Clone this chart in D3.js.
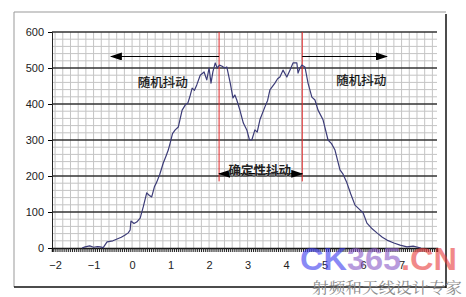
<!DOCTYPE html>
<html>
<head>
<meta charset="utf-8">
<script src="https://cdn.jsdelivr.net/npm/d3@7"></script>
<style>
  html, body { margin: 0; padding: 0; background: #fff; }
  svg { display: block; font-family: Arial, "Liberation Sans", sans-serif; }
  .cn { font-family: "Noto Sans CJK SC", sans-serif; }
</style>
</head>
<body>
<div id="chart"></div>
<script>
// Jitter histogram: hits vs. time offset, with deterministic / random jitter marked.
const xLabels = [-2, -1, 0, 1, 2, 3, 4, 5, 6, 7];
const yTicks = [0, 100, 200, 300, 400, 500, 600];
const hitX = [-1.3, -1.22, -1.1, -1.0, -0.9, -0.83, -0.75, -0.65, -0.5, -0.39,
  -0.28, -0.18, -0.1, -0.05, -0.03, 0.05, 0.12, 0.21, 0.29, 0.38,
  0.45, 0.51, 0.58, 0.64, 0.72, 0.81, 0.88, 0.94, 0.99, 1.05,
  1.12, 1.2, 1.3, 1.38, 1.45, 1.5, 1.56, 1.62, 1.68, 1.77,
  1.87, 1.94, 2.0, 2.05, 2.1, 2.16, 2.21, 2.27, 2.34, 2.4,
  2.46, 2.55, 2.62, 2.67, 2.72, 2.8, 2.89, 2.98, 3.05, 3.11,
  3.19, 3.25, 3.32, 3.45, 3.52, 3.58, 3.71, 3.78, 3.84, 3.92,
  4.02, 4.1, 4.18, 4.28, 4.31, 4.36, 4.41, 4.49, 4.57, 4.67,
  4.75, 4.83, 4.96, 5.09, 5.18, 5.27, 5.4, 5.48, 5.58, 5.68,
  5.79, 5.92, 6.0, 6.1, 6.22, 6.36, 6.5, 6.62, 6.8, 6.96,
  7.14, 7.3, 7.5];
const hitY = [0, 3, 6, 2, 4, 3, 1, 17, 20, 25,
  30, 36, 42, 50, 75, 68, 72, 83, 114, 153,
  146, 142, 170, 183, 205, 236, 255, 272, 292, 318,
  328, 336, 383, 397, 403, 420, 444, 438, 453, 480,
  489, 467, 500, 458, 490, 514, 500, 508, 505, 500,
  503, 458, 417, 425, 411, 383, 347, 328, 300, 300,
  328, 322, 356, 392, 410, 439, 458, 470, 475, 494,
  475, 494, 514, 514, 486, 500, 508, 503, 458, 419,
  411, 383, 356, 300, 290, 272, 217, 205, 181, 150,
  119, 106, 98, 69, 55, 42, 30, 22, 14, 8,
  3, 5, 0];
const djEdges = [2.26, 4.42];      // red markers
const markerBottom = 185;         // where the red markers stop (y units)
const randomLabel = "随机抖动", detLabel = "确定性抖动";

const W = 466, H = 297;
const x = d3.scaleLinear([-2.08, 7.92], [52, 437]);
const y = d3.scaleLinear([0, 600], [248, 32]);

const svg = d3.select("#chart").append("svg").attr("width", W).attr("height", H);
const defs = svg.append("defs");
defs.append("marker").attr("id", "head").attr("viewBox", "0 0 12 8")
  .attr("refX", 11).attr("refY", 4).attr("markerWidth", 12).attr("markerHeight", 8)
  .attr("markerUnits", "userSpaceOnUse").attr("orient", "auto-start-reverse")
  .append("path").attr("d", "M0,0 L12,4 L0,8 z").attr("fill", "#000");

// outer frame: light top/left, dark right/bottom
svg.append("line").attr("x1", 14).attr("x2", 446).attr("y1", 12).attr("y2", 12).attr("stroke", "#999");
svg.append("line").attr("x1", 14).attr("x2", 14).attr("y1", 12).attr("y2", 287).attr("stroke", "#999");
svg.append("line").attr("x1", 446).attr("x2", 446).attr("y1", 14).attr("y2", 288).attr("stroke", "#111").attr("stroke-width", 1.5);
svg.append("line").attr("x1", 14).attr("x2", 446).attr("y1", 287).attr("y2", 287).attr("stroke", "#111").attr("stroke-width", 1.5);

// minor grid
const [x0, x1] = x.domain();
const vGrid = d3.range(-2, 7.95, 0.2);
svg.append("g").selectAll("line").data(vGrid).join("line")
  .attr("x1", (d) => x(d)).attr("x2", (d) => x(d)).attr("y1", y(600)).attr("y2", y(0))
  .attr("stroke", "#c4c4c4").attr("stroke-width", 1);
svg.append("g").selectAll("line").data(d3.range(20, 600, 20).filter((d) => d % 100))
  .join("line").attr("x1", x(x0)).attr("x2", x(x1)).attr("y1", (d) => y(d)).attr("y2", (d) => y(d))
  .attr("stroke", "#c4c4c4").attr("stroke-width", 1);
// major grid
svg.append("g").selectAll("line").data(yTicks.filter((d) => d > 0)).join("line")
  .attr("x1", x(x0)).attr("x2", x(x1)).attr("y1", (d) => y(d)).attr("y2", (d) => y(d))
  .attr("stroke", "#333").attr("stroke-width", 1.5);

// axes
const yAxis = svg.append("g").attr("transform", `translate(${x(x0)},0)`)
  .call(d3.axisLeft(y).tickValues(yTicks).tickSize(4).tickPadding(4));
yAxis.select(".domain").attr("stroke", "#222");
yAxis.selectAll("text").attr("font-size", 11).attr("fill", "#222").attr("font-family", "Arial, sans-serif");

const xTicks = svg.append("g").attr("transform", `translate(0,${y(0)})`)
  .call(d3.axisBottom(x).tickValues(d3.range(x0 + 0.02, x1, 0.05)).tickSize(4).tickFormat(""));
xTicks.select(".domain").attr("stroke", "#111").attr("stroke-width", 1.5);
xTicks.selectAll(".tick line").attr("stroke", "#222");
const xLab = svg.append("g").attr("transform", `translate(0,${y(0)})`)
  .call(d3.axisBottom(x).tickValues(xLabels).tickSize(0).tickPadding(13).tickFormat(d3.format("d")));
xLab.select(".domain").remove();
xLab.selectAll("text").attr("font-size", 11).attr("fill", "#222").attr("font-family", "Arial, sans-serif");

// red deterministic-jitter markers
svg.append("g").selectAll("line").data(djEdges).join("line")
  .attr("x1", (d) => x(d)).attr("x2", (d) => x(d)).attr("y1", y(600)).attr("y2", y(markerBottom))
  .attr("stroke", "#e0282a").attr("stroke-width", 1);

// histogram curve
const pts = hitX.map((v, i) => [v, hitY[i]]);
svg.append("path").datum(pts)
  .attr("d", d3.line().x((p) => x(p[0])).y((p) => y(p[1])))
  .attr("fill", "none").attr("stroke", "#3c3c78").attr("stroke-width", 1.2)
  .attr("stroke-linejoin", "round");

// arrows + labels
const arrowY = y(532);
svg.append("line").attr("x1", x(djEdges[0])).attr("x2", x(-0.55)).attr("y1", arrowY).attr("y2", arrowY)
  .attr("stroke", "#000").attr("stroke-width", 1.2).attr("marker-end", "url(#head)");
svg.append("line").attr("x1", x(djEdges[1])).attr("x2", x(6.62)).attr("y1", arrowY).attr("y2", arrowY)
  .attr("stroke", "#000").attr("stroke-width", 1.2).attr("marker-end", "url(#head)");
svg.append("text").attr("class", "cn").attr("x", x(0.15)).attr("y", y(446)).attr("font-size", 12.5)
  .attr("fill", "#111").attr("stroke", "#111").attr("stroke-width", 0.25).text(randomLabel);
svg.append("text").attr("class", "cn").attr("x", x(5.3)).attr("y", y(452)).attr("font-size", 12.5)
  .attr("fill", "#111").attr("stroke", "#111").attr("stroke-width", 0.25).text(randomLabel);

const detY = y(206);
svg.append("line").attr("x1", x(djEdges[0])).attr("x2", x(djEdges[1])).attr("y1", detY).attr("y2", detY)
  .attr("stroke", "#000").attr("stroke-width", 1.5)
  .attr("marker-start", "url(#head)").attr("marker-end", "url(#head)");
svg.append("text").attr("class", "cn").attr("x", (x(djEdges[0]) + x(djEdges[1])) / 2 - 1).attr("y", detY + 1)
  .attr("text-anchor", "middle").attr("font-size", 12.5).attr("font-weight", "bold")
  .attr("fill", "#222").attr("stroke", "#fff").attr("stroke-width", 0.4).attr("paint-order", "stroke")
  .text(detLabel);

// site watermark
const wm = svg.append("text").attr("x", 300).attr("y", 270).attr("font-size", 32)
  .attr("font-weight", "bold").attr("font-family", "Arial, sans-serif").attr("opacity", 0.6)
  .attr("textLength", 157).attr("lengthAdjust", "spacingAndGlyphs");
wm.append("tspan").attr("fill", "#3c3cf0").text("CK");
wm.append("tspan").attr("fill", "#8a5ac8").text("365");
wm.append("tspan").attr("fill", "#e83c3c").text(".CN");
svg.append("text").attr("x", 312).attr("y", 293).attr("font-size", 15)
  .attr("font-family", "'Noto Serif CJK SC', 'Noto Sans CJK SC', serif").attr("fill", "#8c8c8c")
  .attr("textLength", 150).attr("lengthAdjust", "spacingAndGlyphs").text("射频和天线设计专家");
</script>
</body>
</html>
